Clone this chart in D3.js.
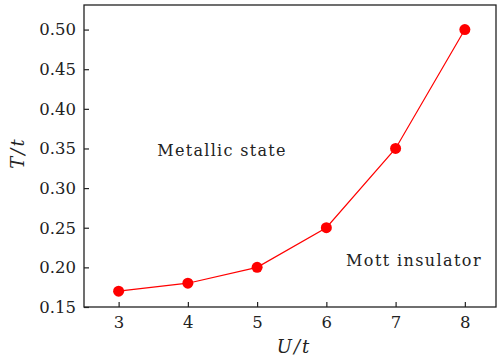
<!DOCTYPE html>
<html>
<head>
<meta charset="utf-8">
<script src="https://cdn.jsdelivr.net/npm/d3@7"></script>
<style>
  body { margin: 0; background: #fff; }
  text { font-family: "DejaVu Serif", serif; fill: #222; }
</style>
</head>
<body>
<div id="chart"></div>
<script>
let uValues = [3, 4, 5, 6, 7, 8];
let tValues = [0.17, 0.18, 0.20, 0.25, 0.35, 0.50];
let xTicks = [3, 4, 5, 6, 7, 8];
let yTicks = [0.15, 0.20, 0.25, 0.30, 0.35, 0.40, 0.45, 0.50];

let width = 497, height = 359;
let margin = {top: 5, right: 1, bottom: 52, left: 84};

let svg = d3.select("#chart")
    .append("svg")
    .attr("width", width)
    .attr("height", height);

let x = d3.scaleLinear()
    .domain([2.5, 8.45])
    .range([margin.left, width - margin.right]);

let y = d3.scaleLinear()
    .domain([0.15, 0.531])
    .range([height - margin.bottom, margin.top]);

// frame
svg.append("rect")
    .attr("x", margin.left)
    .attr("y", margin.top)
    .attr("width", width - margin.right - margin.left)
    .attr("height", height - margin.bottom - margin.top)
    .attr("fill", "none")
    .attr("stroke", "#222")
    .attr("stroke-width", 1.3);

let xAxis = svg.append("g")
    .attr("transform", "translate(0," + (height - margin.bottom) + ")")
    .call(d3.axisBottom(x).tickValues(xTicks).tickSize(-5).tickPadding(9).tickFormat(d3.format("d")));

let yAxis = svg.append("g")
    .attr("transform", "translate(" + margin.left + ",0)")
    .call(d3.axisLeft(y).tickValues(yTicks).tickSize(-5).tickPadding(8).tickFormat(d3.format(".2f")));

[xAxis, yAxis].forEach(function(a) {
    a.select(".domain").remove();
    a.selectAll(".tick line").attr("stroke", "#222").attr("stroke-width", 1.2);
    a.selectAll(".tick text")
        .style("font-family", "DejaVu Serif, serif")
        .style("font-size", "16.5px")
        .attr("fill", "#222");
});

let line = d3.line()
    .x(function(d, i) { return x(uValues[i]); })
    .y(function(d) { return y(d); });

svg.append("path")
    .datum(tValues)
    .attr("d", line)
    .attr("fill", "none")
    .attr("stroke", "#ff0000")
    .attr("stroke-width", 1.2);

svg.selectAll(".dot")
    .data(tValues)
    .enter()
    .append("circle")
    .attr("class", "dot")
    .attr("cx", function(d, i) { return x(uValues[i]); })
    .attr("cy", function(d) { return y(d); })
    .attr("r", 5.5)
    .attr("fill", "#ff0000");

// annotations
svg.append("text")
    .attr("x", 222)
    .attr("y", 156)
    .attr("text-anchor", "middle")
    .style("font-size", "16px")
    .style("letter-spacing", "1.3px")
    .text("Metallic state");

svg.append("text")
    .attr("x", 414)
    .attr("y", 266)
    .attr("text-anchor", "middle")
    .style("font-size", "16px")
    .style("letter-spacing", "1.4px")
    .text("Mott insulator");

// axis titles
svg.append("text")
    .attr("x", 294)
    .attr("y", 353)
    .attr("text-anchor", "middle")
    .style("font-size", "18px")
    .style("font-style", "italic")
    .style("letter-spacing", "2px")
    .text("U/t");

svg.append("text")
    .attr("transform", "translate(24,153) rotate(-90)")
    .attr("text-anchor", "middle")
    .style("font-size", "18px")
    .style("font-style", "italic")
    .style("letter-spacing", "2px")
    .text("T/t");
</script>
</body>
</html>
